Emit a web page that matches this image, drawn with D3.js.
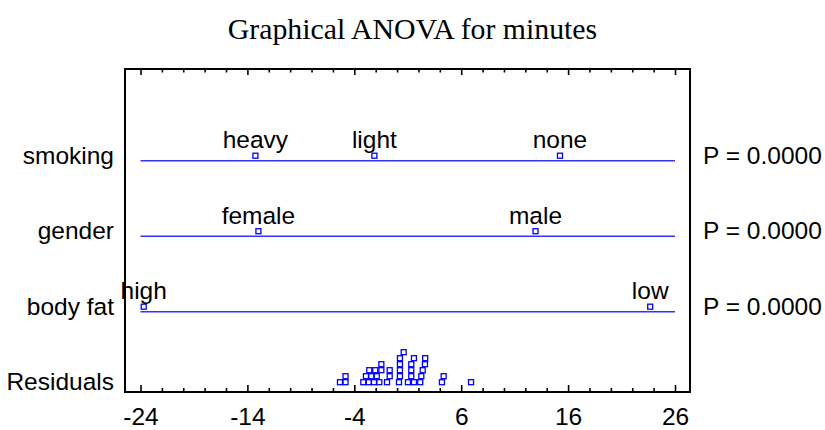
<!DOCTYPE html>
<html>
<head>
<meta charset="utf-8">
<script src="https://cdn.jsdelivr.net/npm/d3@7"></script>
<style>
  body { margin: 0; background: #fff; }
  text { font-family: "Liberation Sans", Arial, sans-serif; fill: #000; }
</style>
</head>
<body>
<svg id="chartSVG" width="825" height="430"></svg>
<script>
// values
var rowNames = ["smoking", "gender", "body fat", "Residuals"];
var pValues = [0.0000, 0.0000, 0.0000];

var smokingLevels = ["heavy", "light", "none"];
var smokingEffects = [-13.25, -2.12, 15.24];
var genderLevels = ["female", "male"];
var genderEffects = [-12.97, 12.95];
var bodyFatLevels = ["high", "low"];
var bodyFatEffects = [-23.7, 23.68];

var residuals = [
  -5.34, -4.82, -4.82,
  -3.16, -2.91, -2.65, -2.60, -2.41, -2.16, -2.04, -1.90, -1.66, -1.47, -1.47,
  -0.94, -0.69, -0.69,
  0.18, 0.27, 0.27, 0.27, 0.27, 0.62,
  1.02, 1.33, 1.33, 1.33, 1.58, 1.58,
  2.17, 2.27, 2.40, 2.61, 2.63,
  4.20, 4.36, 6.92
];

var majorTicks = [-24, -14, -4, 6, 16, 26];
var minorTicks = d3.range(-24, 27, 2).filter(function (t) { return majorTicks.indexOf(t) < 0; });

var groups = [
  { factor: "smoking", levels: smokingLevels, effects: smokingEffects },
  { factor: "gender", levels: genderLevels, effects: genderEffects },
  { factor: "body fat", levels: bodyFatLevels, effects: bodyFatEffects }
];

var svg = d3.select("#chartSVG");
var frame = { left: 125, top: 69, right: 690, bottom: 392 };
var markSize = 6;
var blue = "#0000ff";
var fontSize = "24.5px";

var x = d3.scaleLinear().domain([-24, 26]).range([140.5, 675]);
var y = d3.scalePoint().domain(rowNames).range([160.7, 387.2]);

// title
svg.append("text")
  .attr("x", 412.5)
  .attr("y", 39)
  .attr("text-anchor", "middle")
  .style("font-family", "'Liberation Serif', 'Times New Roman', serif")
  .style("font-size", "29.8px")
  .text("Graphical ANOVA for minutes");

// axes: ticks point into the plot
var bottomMajor = d3.axisBottom(x).tickValues(majorTicks).tickSizeInner(-7).tickSizeOuter(0).tickPadding(16)
  .tickFormat(function (d) { return String(d); });
var bottomMinor = d3.axisBottom(x).tickValues(minorTicks).tickSizeInner(-4).tickSizeOuter(0).tickFormat("");
var topMajor = d3.axisTop(x).tickValues(majorTicks).tickSizeInner(-6).tickSizeOuter(0).tickFormat("");
var topMinor = d3.axisTop(x).tickValues(minorTicks).tickSizeInner(-3.5).tickSizeOuter(0).tickFormat("");

[[bottomMajor, frame.bottom], [bottomMinor, frame.bottom], [topMajor, frame.top], [topMinor, frame.top]]
  .forEach(function (a) {
    var g = svg.append("g").attr("transform", "translate(0," + a[1] + ")").call(a[0]);
    g.select(".domain").remove();
    g.selectAll("line").attr("stroke", "#000").attr("stroke-width", 1.6);
    g.selectAll("text")
      .style("font-family", "'Liberation Sans', Arial, sans-serif")
      .style("font-size", fontSize)
      .attr("fill", "#000");
  });

// frame
svg.append("rect")
  .attr("x", frame.left)
  .attr("y", frame.top)
  .attr("width", frame.right - frame.left)
  .attr("height", frame.bottom - frame.top)
  .attr("fill", "none")
  .attr("stroke", "#000")
  .attr("stroke-width", 2);

// row labels on the left
svg.selectAll(".rowLabel")
  .data(rowNames)
  .enter().append("text")
  .attr("class", "rowLabel")
  .attr("x", 114)
  .attr("y", function (d) { return y(d) + 3; })
  .attr("text-anchor", "end")
  .style("font-size", fontSize)
  .text(function (d) { return d; });

// P values on the right
svg.selectAll(".pLabel")
  .data(groups)
  .enter().append("text")
  .attr("class", "pLabel")
  .attr("x", 703)
  .attr("y", function (d) { return y(d.factor) + 3; })
  .style("font-size", fontSize)
  .text(function (d, i) { return "P = " + pValues[i].toFixed(4); });

// factor lines
svg.selectAll(".factorLine")
  .data(groups)
  .enter().append("line")
  .attr("class", "factorLine")
  .attr("x1", x(-24))
  .attr("x2", x(26))
  .attr("y1", function (d) { return y(d.factor); })
  .attr("y2", function (d) { return y(d.factor); })
  .attr("stroke", "#3333ff")
  .attr("stroke-width", 1.6);

// group means
groups.forEach(function (grp) {
  var pts = grp.levels.map(function (lv, i) { return { level: lv, value: grp.effects[i] }; });
  var rowY = y(grp.factor);
  svg.selectAll(null)
    .data(pts)
    .enter().append("rect")
    .attr("x", function (d) { return x(d.value) - markSize / 2 + 0.5; })
    .attr("y", rowY - 5 - markSize / 2 + 0.5)
    .attr("width", markSize - 1)
    .attr("height", markSize - 1)
    .attr("fill", "none")
    .attr("stroke", blue)
    .attr("stroke-width", 1.3);
  svg.selectAll(null)
    .data(pts)
    .enter().append("text")
    .attr("x", function (d) { return x(d.value); })
    .attr("y", rowY - 12.4)
    .attr("text-anchor", "middle")
    .style("font-size", fontSize)
    .text(function (d) { return d.level; });
});

// residual dot plot, stacked where squares would collide
var placed = [];
residuals.slice().sort(d3.ascending).forEach(function (v) {
  var px = x(v), lvl = 0;
  while (placed.some(function (p) { return p.lvl === lvl && Math.abs(p.px - px) < 5; })) { lvl++; }
  placed.push({ value: v, px: px, lvl: lvl });
});

var resY = y("Residuals");
svg.selectAll(".resid")
  .data(placed)
  .enter().append("rect")
  .attr("class", "resid")
  .attr("x", function (d) { return d.px - markSize / 2 + 0.5; })
  .attr("y", function (d) { return resY - 5 - markSize * d.lvl - markSize / 2 + 0.5; })
  .attr("width", markSize - 1)
  .attr("height", markSize - 1)
  .attr("fill", "none")
  .attr("stroke", blue)
  .attr("stroke-width", 1.3);
</script>
</body>
</html>
